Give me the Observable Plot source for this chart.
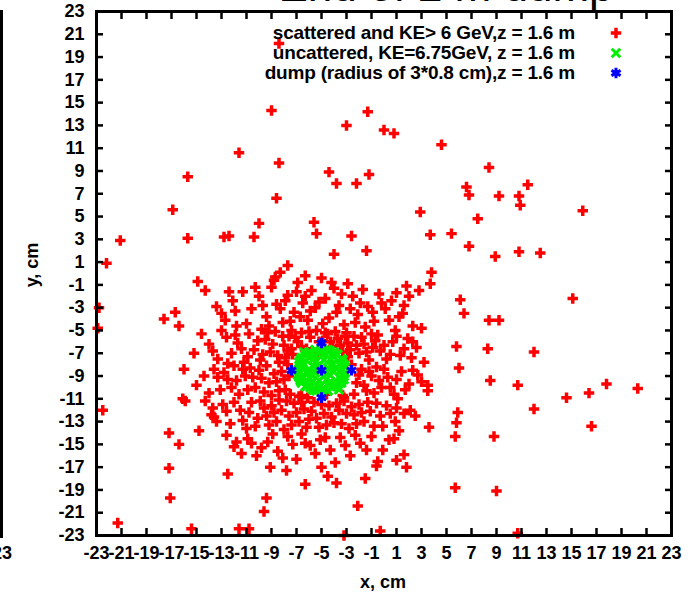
<!DOCTYPE html>
<html><head><meta charset="utf-8">
<script src="https://cdn.jsdelivr.net/npm/d3@7"></script>
<script src="https://cdn.jsdelivr.net/npm/@observablehq/plot@0.6"></script>
<style>
html,body{margin:0;padding:0;background:#fff;}
#wrap{position:relative;width:692px;height:595px;overflow:hidden;font-family:"Liberation Sans",Arial,sans-serif;color:#000;}
#wrap svg.plot{position:absolute;left:0;top:0;}
.abs{position:absolute;white-space:nowrap;}
#title{left:446px;top:-36px;font-size:44px;line-height:44px;transform:translateX(-50%);}
#xlab{left:383px;top:572px;font-size:18px;font-weight:bold;transform:translateX(-50%);line-height:20px;}
#ylab{left:32px;top:265px;font-size:18px;font-weight:bold;transform:translate(-50%,-50%) rotate(-90deg);line-height:20px;}
#nbline{left:0px;top:10px;width:3px;height:528px;background:#000;}
#nb23{left:2px;top:543px;font-size:18px;font-weight:bold;transform:translateX(-50%);line-height:20px;}
.leg{font-size:19px;font-weight:bold;line-height:20px;text-align:right;right:117px;letter-spacing:-0.2px;}
</style></head><body><div id="wrap">
<div class="abs" id="title">End of 2 m dump</div>
<div class="abs" id="nbline"></div>
<div class="abs" id="nb23">23</div>
</div>
<script>
// ---- data (cm) ----
const ticks = [-23,-21,-19,-17,-15,-13,-11,-9,-7,-5,-3,-1,1,3,5,7,9,11,13,15,17,19,21,23];

const scatteredOuter = [
[-8.4,20.2],[-21.1,2.9],[-22.2,0.9],[-22.8,-3.0],[-22.9,-4.8],[-22.5,-12.0],[-21.3,-21.9],
[-9.0,14.3],[-1.3,14.2],[-3.0,13.0],[0.0,12.6],[0.8,12.3],[4.6,11.3],
[-11.6,10.6],[-8.4,9.7],[-8.6,6.6],[-15.7,8.5],[-16.9,5.6],[-15.7,3.1],
[-4.4,8.9],[-3.8,7.9],[-2.2,7.9],[-1.2,8.7],
[-12.8,3.2],[-12.4,3.3],[-10.4,3.2],[-10.0,4.4],[-5.6,4.5],[-5.4,3.5],[-2.6,3.3],
[-7.7,0.7],[-8.7,-0.3],[-4.0,1.7],[-1.4,2.0],
[8.4,9.3],[6.6,7.6],[6.8,6.9],[9.2,6.8],[10.8,6.8],[10.9,6.0],[11.5,7.8],[15.9,5.5],
[2.9,5.4],[7.5,4.8],[3.7,3.4],[5.4,3.5],[6.8,2.4],[8.9,1.5],[10.8,1.9],[12.5,1.8],[15.1,-2.2],
[3.8,0.1],[3.7,-0.9],[2.8,-1.5],[2.0,-2.0],[6.1,-2.3],[6.4,-3.5],[8.4,-4.1],[9.2,-4.1],
[5.8,-6.4],[8.3,-6.6],[12.0,-6.9],[6.0,-8.3],[3.5,-9.8],[8.5,-9.4],[10.7,-9.8],
[17.8,-9.7],[20.3,-10.1],[16.4,-10.5],[14.6,-10.9],[12.0,-11.9],[5.9,-12.2],[5.8,-13.1],[5.7,-14.3],
[16.6,-13.4],[8.8,-14.3],[5.7,-18.8],[9.0,-19.1],[10.7,-22.8],[-0.3,-22.6],[-2.1,-20.4],[-3.8,-18.4],[-3.2,-23.0],
[-17.6,-4.0],[-16.7,-3.4],[-16.4,-4.6],[-14.9,-0.7],[-14.3,-1.5],[-16.0,-8.4],[-15.9,-11.2],[-16.1,-11.0],
[-17.2,-14.0],[-16.4,-15.0],[-17.2,-17.1],[-17.1,-19.7],[-13.7,-11.8],[-13.6,-12.6],[-11.8,-14.8],[-12.5,-17.6],
[-9.4,-19.7],[-9.6,-20.9],[-11.6,-22.4],[-10.8,-22.4],[-15.4,-22.4],
[1.5,-3.5],[2.3,-6.0],[3.0,-4.8],[1.0,-11.8],[2.5,-12.5],[0.8,-14.5],[3.6,-13.5],[-0.5,-16.5],
[1.8,-17.0],[-1.5,-18.0],[-6.3,-18.5],[-7.8,-17.3],[-5.0,-17.0]
];

const scatteredCore = [
[-12.1,-2.4],[-11.3,-1.6],[-10.6,-3.1],[-10.0,-2.0],[-9.4,-3.8],[-9.0,-1.2],[-8.6,-2.7],[-8.1,-4.3],
[-7.7,-1.9],[-7.2,-3.4],[-6.9,-0.8],[-6.5,-2.6],[-6.1,-4.1],[-5.8,-1.5],[-5.5,-3.0],[-5.0,-0.4],
[-4.7,-2.2],[-4.4,-3.9],[-4.0,-1.3],[-3.6,-2.8],[-3.2,-4.5],[-2.9,-0.9],[-2.5,-2.0],[-2.1,-3.6],
[-1.7,-1.4],[-1.3,-2.9],[-0.8,-4.2],[-0.4,-1.8],[0.1,-3.1],[0.6,-2.4],[1.2,-3.8],[1.8,-1.1],
[2.3,-4.6],[-11.8,-4.6],[-13.0,-3.5],[-9.8,-4.9],[-7.4,-5.0],[-3.0,-5.2],[-1.0,-5.3],[0.9,-5.0],
[-6.3,-0.2],[-8.3,0.1],
[-14.0,-6.2],[-13.3,-7.5],[-12.6,-5.6],[-12.2,-7.0],[-11.7,-6.1],[-11.2,-7.8],[-10.8,-5.3],[-10.4,-6.7],
[-9.9,-7.6],[-9.5,-5.8],[-9.1,-6.9],[-8.7,-5.1],[-8.4,-7.8],[-8.0,-6.3],[-7.6,-5.5],[-7.3,-7.1],
[-6.9,-6.0],[-6.6,-5.2],[-6.2,-6.6],[-5.9,-5.6],[-5.4,-5.0],[-4.9,-5.9],[-4.5,-5.3],[-4.1,-6.4],
[-3.7,-5.7],[-3.3,-6.9],[-2.9,-6.1],[-2.4,-5.5],[-2.0,-7.0],[-1.6,-6.2],[-1.2,-7.6],[-0.7,-5.9],
[-0.3,-6.8],[0.2,-7.5],[0.7,-6.0],[1.3,-7.2],[1.9,-5.7],[2.6,-6.5],[3.2,-7.8],
[-14.4,-9.0],[-13.6,-8.4],[-13.1,-10.2],[-12.5,-9.3],[-12.0,-8.1],[-11.6,-10.6],[-11.1,-9.0],[-10.7,-8.3],
[-10.3,-10.0],[-9.8,-9.2],[-9.4,-8.1],[-9.0,-10.7],[-8.6,-9.5],[-8.2,-8.6],[-7.9,-10.2],[-7.6,-9.0],
[-2.6,-8.0],[-2.2,-9.6],[-1.8,-8.4],[-1.4,-10.3],[-1.0,-9.0],[-0.6,-8.2],[-0.2,-10.0],[0.3,-9.1],
[0.8,-10.6],[1.4,-8.6],[2.0,-9.7],[2.7,-8.9],[3.5,-10.3],[1.1,-11.0],
[-13.8,-12.4],[-12.9,-11.5],[-12.3,-13.2],[-11.5,-12.0],[-11.0,-13.6],[-10.6,-11.3],[-10.1,-12.7],[-9.6,-11.8],
[-9.2,-13.3],[-8.8,-12.2],[-8.4,-11.1],[-8.0,-13.7],[-7.6,-12.5],[-7.2,-11.4],[-6.8,-13.0],[-6.4,-11.9],
[-6.0,-12.8],[-5.6,-11.3],[-5.2,-13.5],[-4.8,-12.3],[-4.4,-11.6],[-4.0,-13.1],[-3.6,-12.0],[-3.2,-11.2],
[-2.8,-13.6],[-2.4,-12.4],[-2.0,-11.5],[-1.6,-13.0],[-1.1,-12.1],[-0.6,-11.4],[-0.1,-13.4],[0.5,-12.3],
[1.2,-13.8],[2.1,-12.0],
[-12.0,-15.2],[-10.9,-14.5],[-10.2,-16.0],[-9.3,-14.8],[-8.5,-15.6],[-7.7,-14.3],[-7.0,-16.3],[-6.3,-14.9],
[-5.5,-15.8],[-4.7,-14.4],[-3.9,-16.6],[-3.1,-15.1],[-2.3,-14.2],[-1.4,-15.5],[-0.6,-16.9],[0.4,-14.6],
[1.6,-15.9],[-14.8,-13.8],
[-7.9,-7.4],[-6.8,-10.8],[-3.2,-10.9],[-2.9,-7.3],[-7.4,-6.6],[-5.3,-7.0],[-4.6,-10.6],[-6.1,-10.9]
];

const scatteredCore2 = [
[-13.4,-2.9],[-12.7,-4.1],[-11.9,-3.3],[-11.0,-4.4],[-10.3,-1.2],[-9.7,-2.8],[-9.2,-4.6],[-8.8,-0.6],
[-8.3,-3.1],[-7.9,-2.4],[-7.5,-4.2],[-7.0,-1.6],[-6.7,-3.8],[-6.3,-2.0],[-5.9,-3.3],[-5.2,-2.5],
[-4.9,-4.4],[-4.2,-0.8],[-3.8,-3.4],[-3.4,-1.8],[-2.7,-3.1],[-2.3,-4.3],[-1.9,-2.6],[-1.5,-4.7],
[-0.9,-3.4],[-0.2,-2.6],[0.4,-4.1],[1.0,-1.7],[1.6,-2.8],[-12.4,-1.6],
[-14.6,-5.3],[-13.7,-6.8],[-13.0,-5.0],[-12.5,-7.9],[-11.9,-5.4],[-11.4,-6.6],[-10.9,-7.3],[-10.1,-5.9],
[-9.7,-7.1],[-9.3,-5.2],[-8.9,-6.2],[-8.5,-7.2],[-8.1,-5.5],[-7.7,-6.8],[-7.1,-5.6],[-6.6,-6.4],
[-6.0,-5.1],[-5.2,-6.0],[-4.7,-5.2],[-4.3,-6.0],[-3.9,-5.1],[-3.5,-6.3],[-3.1,-5.5],[-2.7,-6.7],
[-2.2,-6.3],[-1.8,-5.6],[-1.4,-6.9],[-0.9,-6.5],[-0.5,-5.4],[0.0,-6.3],[0.5,-7.1],[1.0,-5.5],
[1.6,-6.6],[2.2,-7.4],[-15.2,-7.0],
[-15.0,-9.8],[-14.0,-10.5],[-13.3,-9.1],[-12.8,-8.7],[-12.2,-10.0],[-11.8,-9.4],[-11.3,-8.4],[-10.9,-10.2],
[-10.5,-9.1],[-10.0,-8.5],[-9.6,-10.4],[-9.2,-9.6],[-8.8,-8.8],[-8.4,-10.3],[-8.0,-9.3],[-7.7,-8.0],
[-7.5,-10.6],[-2.4,-10.6],[-2.0,-8.9],[-1.6,-9.8],[-1.2,-8.6],[-0.8,-10.5],[-0.4,-9.4],[0.0,-8.4],
[0.5,-10.0],[1.0,-9.3],[1.7,-10.2],[2.3,-8.5],[3.0,-9.5],[-6.6,-10.7],[-3.3,-10.7],
[-14.3,-11.2],[-13.4,-13.0],[-12.6,-12.1],[-12.0,-11.3],[-11.3,-12.9],[-10.8,-12.2],[-10.3,-13.4],[-9.9,-11.2],
[-9.4,-12.5],[-9.0,-11.6],[-8.6,-13.0],[-8.2,-12.0],[-7.8,-11.2],[-7.4,-13.3],[-7.0,-12.2],[-6.6,-11.3],
[-6.2,-13.5],[-5.8,-12.1],[-5.4,-12.7],[-5.0,-11.5],[-4.6,-13.3],[-4.2,-12.6],[-3.8,-11.4],[-3.4,-13.2],
[-3.0,-12.3],[-2.6,-11.7],[-2.2,-13.2],[-1.8,-12.2],[-1.3,-11.3],[-0.8,-13.4],[-0.3,-12.5],[0.2,-11.6],
[0.9,-13.0],[1.6,-12.3],
[-12.6,-14.2],[-11.4,-15.8],[-10.6,-14.9],[-9.8,-15.3],[-8.9,-14.1],[-8.1,-16.2],[-7.3,-15.0],[-6.6,-14.1],
[-5.9,-15.1],[-5.1,-14.6],[-4.3,-15.5],[-3.5,-14.4],[-2.7,-16.0],[-1.9,-14.9],[-1.0,-14.3],[-0.1,-15.5],
[1.0,-16.4],[-9.1,-17.0],[-4.5,-17.8]
];

const beam = [
[-5.0,-8.5],[-4.2,-8.1],[-5.8,-8.9],[-4.6,-9.3],[-5.4,-7.7],[-3.5,-8.6],[-6.5,-8.4],[-5.1,-6.9],
[-4.9,-10.1],[-4.0,-7.3],[-6.0,-7.3],[-3.9,-9.7],[-6.1,-9.8],[-3.3,-7.9],[-6.7,-9.2],[-3.2,-9.3],
[-6.8,-7.8],[-4.4,-6.8],[-5.6,-10.2],[-4.5,-10.3],[-5.5,-6.7],[-3.6,-10.2],[-6.4,-6.9],[-3.1,-8.7],
[-6.9,-8.5],[-5.0,-6.6],[-5.0,-10.4],[-3.7,-7.1],[-6.3,-7.2],[-3.7,-9.9],[-6.3,-9.9],[-4.3,-8.9],
[-5.7,-8.1],[-4.8,-7.6],[-5.2,-9.4],[-4.1,-7.9],[-5.9,-9.2],[-4.4,-9.8],[-5.6,-7.2],[-3.9,-8.3],
[-6.1,-8.6],[-4.7,-8.7],[-5.3,-8.2],[-3.4,-7.5],[-6.6,-9.6],[-3.4,-9.6],[-6.6,-7.4],[-4.6,-6.7],
[-5.4,-10.3],[-4.1,-10.0],[-5.9,-10.0],[-4.0,-6.9],[-6.0,-6.9],[-3.1,-8.2],[-6.9,-8.9],[-3.2,-9.0],
[-4.5,-8.3],[-5.5,-8.7],[-4.8,-9.0],[-5.2,-8.0],[-4.0,-8.6],[-6.0,-8.4],[-4.3,-7.5],[-5.7,-7.6],
[-4.3,-9.5],[-5.7,-9.5],[-3.6,-8.0],[-6.4,-8.0],[-3.6,-9.1],[-6.4,-9.1],[-4.9,-7.1],[-5.1,-9.9],
[-3.2,-8.0],[-6.8,-8.1],[-6.8,-9.1],[-4.5,-6.7],[-5.5,-6.7],[-4.5,-10.3],[-5.6,-10.2],[-3.8,-7.1],
[-6.2,-7.1],[-3.8,-9.9],[-6.2,-9.9],[-4.3,-6.8],[-5.7,-10.2],[-3.3,-7.6],[-6.7,-9.4],[-3.4,-9.4],
[-6.7,-7.6]
];

const dump = [[-5.0,-8.5],[-5.0,-6.1],[-5.0,-10.9],[-7.4,-8.5],[-2.6,-8.5]];

const legendLabels = [
  "scattered and KE> 6 GeV,z = 1.6 m",
  "uncattered, KE=6.75GeV, z = 1.6 m",
  "dump (radius of 3*0.8 cm),z = 1.6 m"
];
const legendColors = ["#ff0000", "#00ee00", "#0000ff"];
const legendSymbols = ["cross", "times", "asterisk"];

// ---- chart ----
const scattered = scatteredOuter.concat(scatteredCore, scatteredCore2);
const font = "'Liberation Sans', Arial, sans-serif";
const fmt = d => String(d);
const chart = Plot.plot({
  width: 692, height: 595,
  marginLeft: 96, marginRight: 21, marginTop: 11, marginBottom: 60,
  x: {domain: [-23, 23]},
  y: {domain: [-23, 23]},
  style: {fontFamily: font, fontSize: "18px", fontWeight: "bold", color: "#000", background: "transparent", overflow: "visible"},
  marks: [
    Plot.dot(scattered, {x: d => d[0], y: d => d[1], symbol: "cross", fill: "#ff0000", r: 4.4}),
    Plot.dot(beam, {x: d => d[0], y: d => d[1], symbol: "times", stroke: "#00ee00", strokeWidth: 3, r: 4}),
    Plot.dot(dump, {x: d => d[0], y: d => d[1], symbol: "asterisk", stroke: "#0000ff", strokeWidth: 3, r: 5}),
    Plot.frame({stroke: "#000", strokeWidth: 3}),
    Plot.axisX(ticks, {anchor: "bottom", tickSize: -7, tickPadding: 18, strokeWidth: 2.5, tickFormat: fmt, label: null}),
    Plot.axisX(ticks, {anchor: "top", tickSize: -7, strokeWidth: 2.5, tickFormat: () => "", label: null}),
    Plot.axisY(ticks, {anchor: "left", tickSize: -7, tickPadding: 19, strokeWidth: 2.5, tickFormat: fmt, label: null}),
    Plot.axisY(ticks, {anchor: "right", tickSize: -7, strokeWidth: 2.5, tickFormat: () => "", label: null})
  ]
});
chart.classList.add("plot");
const wrap = document.getElementById("wrap");
wrap.appendChild(chart);

// legend overlay (text + symbols)
const rowsY = [33, 53, 73];
legendLabels.forEach((t, i) => {
  const d = document.createElement("div");
  d.className = "abs leg";
  d.style.top = (rowsY[i] - 10) + "px";
  d.textContent = t;
  wrap.appendChild(d);
});
const svgL = d3.select(wrap).append("svg").attr("width", 692).attr("height", 595)
  .style("position", "absolute").style("left", 0).style("top", 0).style("pointer-events", "none");
const symMap = {cross: d3.symbolCross, times: d3.symbolTimes, asterisk: d3.symbolAsterisk};
const rMap = {cross: 4.4, times: 4, asterisk: 5};
legendSymbols.forEach((s, i) => {
  const r = rMap[s];
  const p = svgL.append("path").attr("transform", `translate(616,${rowsY[i]})`)
    .attr("d", d3.symbol(symMap[s], r * r * Math.PI)());
  if (s === "cross") p.attr("fill", legendColors[i]);
  else p.attr("fill", "none").attr("stroke", legendColors[i]).attr("stroke-width", 3);
});

const xl = document.createElement("div"); xl.className = "abs"; xl.id = "xlab"; xl.textContent = "x, cm"; wrap.appendChild(xl);
const yl = document.createElement("div"); yl.className = "abs"; yl.id = "ylab"; yl.textContent = "y, cm"; wrap.appendChild(yl);
</script></body></html>
